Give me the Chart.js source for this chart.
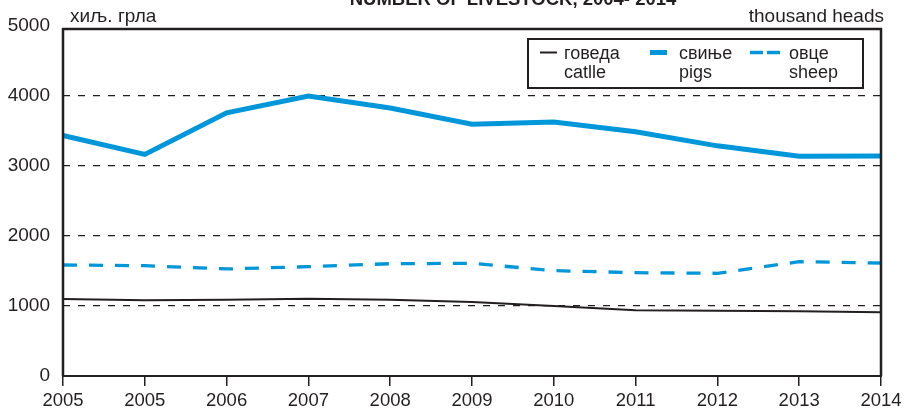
<!DOCTYPE html>
<html>
<head>
<meta charset="utf-8">
<script src="https://cdn.jsdelivr.net/npm/chart.js@4/dist/chart.umd.min.js"></script>
<style>
  html, body { margin: 0; padding: 0; background: #fff; }
  #wrap { width: 909px; height: 412px; position: relative; }
</style>
</head>
<body>
<div id="wrap"><canvas id="c" width="909" height="412"></canvas></div>
<script>
const categories = ['2005', '2005', '2006', '2007', '2008', '2009', '2010', '2011', '2012', '2013', '2014'];
const cattle = [1100, 1081, 1090, 1104, 1088, 1057, 1000, 938, 933, 924, 910];
const pigs   = [3435, 3165, 3760, 4000, 3828, 3598, 3630, 3490, 3288, 3140, 3143];
const sheep  = [1586, 1576, 1529, 1562, 1604, 1610, 1505, 1476, 1467, 1633, 1614];
const yTicks = [0, 1000, 2000, 3000, 4000, 5000];
const titleText = 'NUMBER OF LIVESTOCK, 2004- 2014';
const unitLeft = 'хиљ. грла';
const unitRight = 'thousand heads';
const seriesLabels = [['говеда', 'catlle'], ['свиње', 'pigs'], ['овце', 'sheep']];

const INK = '#231f20';
const BLUE = '#0096da';
const FONT = 'Liberation Sans, Arial, Helvetica, sans-serif';

const decorPlugin = {
  id: 'decor',
  afterDatasetsDraw(chart) {
    const ctx = chart.ctx;
    const a = chart.chartArea;
    ctx.save();
    // frame
    ctx.strokeStyle = INK;
    ctx.setLineDash([]);
    ctx.lineWidth = 2.5;
    ctx.beginPath();
    ctx.moveTo(a.left, a.bottom);
    ctx.lineTo(a.left, a.top + 3);
    ctx.lineTo(a.right, a.top + 3);
    ctx.lineTo(a.right, a.bottom);
    ctx.stroke();
    ctx.lineWidth = 2;
    ctx.beginPath();
    ctx.moveTo(a.left - 1, a.bottom);
    ctx.lineTo(a.right + 1, a.bottom);
    ctx.stroke();

    // title (clipped at top as in reference)
    ctx.fillStyle = INK;
    ctx.font = 'bold 18.5px ' + FONT;
    ctx.textAlign = 'center';
    ctx.textBaseline = 'alphabetic';
    ctx.fillText(titleText, 513, 5);

    // units
    ctx.font = '19px ' + FONT;
    ctx.textAlign = 'left';
    ctx.fillText(unitLeft, a.left + 7, 21.5);
    ctx.textAlign = 'right';
    ctx.fillText(unitRight, a.right + 3, 21.5);

    // legend box
    const bx = 528, by = 39, bw = 335, bh = 49;
    ctx.fillStyle = '#fff';
    ctx.fillRect(bx, by, bw, bh);
    ctx.lineWidth = 2;
    ctx.strokeStyle = INK;
    ctx.strokeRect(bx, by, bw, bh);

    const items = [
      { sx: 540, len: 17, tx: 564, dash: [] },
      { sx: 650, len: 17, tx: 679, dash: [] },
      { sx: 750, len: 30, tx: 789, dash: [13, 4] }
    ];
    chart.data.datasets.forEach((ds, i) => {
      const it = items[i];
      ctx.strokeStyle = ds.borderColor;
      ctx.lineWidth = ds.borderWidth;
      ctx.setLineDash(it.dash);
      ctx.lineCap = 'butt';
      ctx.beginPath();
      ctx.moveTo(it.sx, 52.5);
      ctx.lineTo(it.sx + it.len, 52.5);
      ctx.stroke();
      ctx.setLineDash([]);
      ctx.fillStyle = INK;
      ctx.font = '18px ' + FONT;
      ctx.textAlign = 'left';
      ctx.textBaseline = 'alphabetic';
      const lines = ds.label;
      ctx.fillText(lines[0], it.tx, 58.5);
      ctx.fillText(lines[1], it.tx, 78);
    });
    ctx.restore();
  }
};

new Chart(document.getElementById('c'), {
  type: 'line',
  data: {
    labels: categories,
    datasets: [
      { label: seriesLabels[0], data: cattle, borderColor: INK, borderWidth: 2, pointRadius: 0, tension: 0, fill: false },
      { label: seriesLabels[1], data: pigs, borderColor: BLUE, borderWidth: 5, pointRadius: 0, tension: 0, fill: false },
      { label: seriesLabels[2], data: sheep, borderColor: BLUE, borderWidth: 3.3, borderDash: [14, 12], borderCapStyle: 'butt', pointRadius: 0, tension: 0, fill: false }
    ]
  },
  options: {
    responsive: false,
    animation: false,
    devicePixelRatio: 1,
    layout: { padding: { top: 26, right: 28, left: 0, bottom: 0 } },
    plugins: {
      legend: { display: false },
      title: { display: false },
      tooltip: { enabled: false }
    },
    scales: {
      x: {
        type: 'category',
        offset: false,
        grid: { display: true, drawOnChartArea: false, drawTicks: true, tickLength: 10, color: INK, lineWidth: 1.5 },
        border: { display: false },
        ticks: { color: INK, font: { family: FONT, size: 18.5 }, padding: 4, maxRotation: 0, autoSkip: false },
        afterFit(s) { s.height = 36; }
      },
      y: {
        min: 0,
        max: 5000,
        afterBuildTicks(s) { s.ticks = yTicks.map(v => ({ value: v })); },
        grid: {
          drawTicks: false,
          color: (c) => (c.tick && (c.tick.value === 0 || c.tick.value === 5000)) ? 'rgba(0,0,0,0)' : INK,
          lineWidth: 1.3
        },
        border: { display: false, dash: [7, 8] },
        ticks: { color: INK, font: { family: FONT, size: 19 }, padding: 13, callback: (v) => String(v) },
        afterFit(s) { s.width = 63; }
      }
    }
  },
  plugins: [decorPlugin]
});
</script>
</body>
</html>
